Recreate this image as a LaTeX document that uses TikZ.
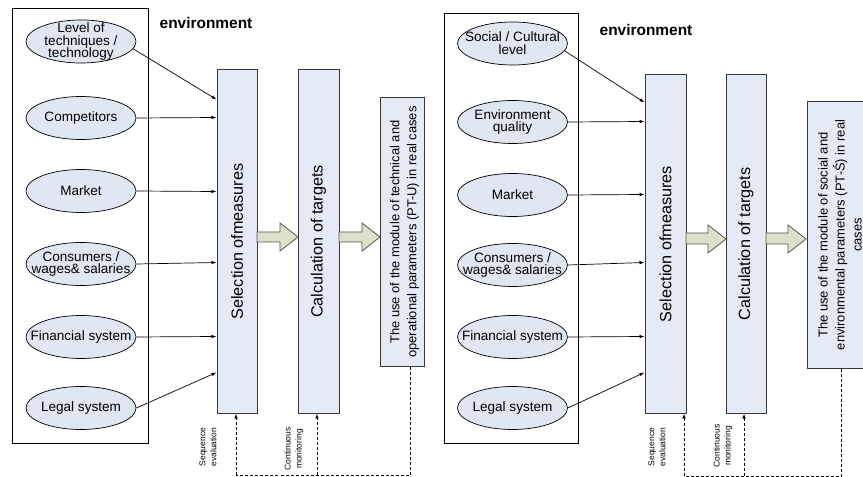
\documentclass[tikz,border=0pt]{standalone}
\usepackage{fontspec}
\setmainfont{Liberation Sans}
\usetikzlibrary{shapes.geometric,arrows.meta,calc}
\definecolor{boxfill}{RGB}{228,234,246}
\definecolor{ellfill}{RGB}{224,231,243}
\definecolor{boxline}{RGB}{55,55,55}
\definecolor{arrfill}{RGB}{221,225,204}
\definecolor{arrline}{RGB}{85,88,75}
\begin{document}
\begin{tikzpicture}[x=1bp,y=-1bp,
  panel/.style={draw=black, line width=0.7bp},
  ell/.style={ellipse, draw=black, fill=ellfill, line width=0.7bp, minimum width=110bp, minimum height=43bp, inner sep=0pt},
  elltext/.style={font=\fontsize{13.6}{12.8}\selectfont, align=center, inner sep=0pt},
  stepbox/.style={draw=boxline, fill=boxfill, line width=1bp, inner sep=0pt},
  boxtext/.style={rotate=90, font=\fontsize{16.3}{18}\selectfont, inner sep=0pt},
  usetext/.style={rotate=90, font=\fontsize{13}{17}\selectfont, align=center, inner sep=0pt},
  smalltext/.style={rotate=90, font=\fontsize{8.5}{11}\selectfont, align=center, inner sep=0pt},
  envtext/.style={font=\bfseries\fontsize{15.5}{18}\selectfont, inner sep=0pt},
  conn/.style={draw=black, line width=0.7bp, -{Latex[length=5bp,width=3.5bp]}},
  fback/.style={draw=black, line width=0.8bp, dash pattern=on 3bp off 2bp},
  fbarrow/.style={fback, -{Latex[length=5bp,width=3.5bp]}},
  blockarr/.style={draw=arrline, fill=arrfill, line width=0.8bp, line join=miter}
]
\fill[white] (0,0) rectangle (863,477);
\useasboundingbox (0,0) rectangle (863,477);

% ---------------- left panel ----------------
\draw[panel] (12,8) rectangle (148,443);
\node[envtext] (env1) at (206,23) {environment};

\node[ell, label={[elltext]center:Level of\\techniques /\\technology}] (l1) at (81,41.5) {};
\node[ell, label={[elltext]center:Competitors}] (l2) at (81,118) {};
\node[ell, label={[elltext]center:Market}] (l3) at (81,191) {};
\node[ell, label={[elltext]center:Consumers /\\wages\& salaries}] (l4) at (81,264) {};
\node[ell, label={[elltext]center:Financial system}] (l5) at (81,337) {};
\node[ell, label={[elltext]center:Legal system}] (l6) at (81,408) {};

\node[stepbox, minimum width=40bp, minimum height=343bp] (sel1) at (237,241.5) {};
\node[boxtext] (sel1t) at (sel1.center) {Selection ofmeasures};
\node[stepbox, minimum width=41bp, minimum height=343bp] (calc1) at (318.5,241.5) {};
\node[boxtext] (calc1t) at (calc1.center) {Calculation of targets};
\node[stepbox, minimum width=44bp, minimum height=268bp] (use1) at (402,232) {};
\node[usetext] (use1t) at (404.5,232) {The use of the module of technical and\\operational parameters (PT-U) in real cases};

\draw[conn] (l1.-8) -- ($(sel1.north west)+(0,30)$);
\draw[conn] (l2.east) -- ($(sel1.north west)+(0,48)$);
\draw[conn] (l3.east) -- ($(sel1.north west)+(0,122)$);
\draw[conn] (l4.east) -- ($(sel1.north west)+(0,193)$);
\draw[conn] (l5.east) -- ($(sel1.north west)+(0,267)$);
\draw[conn] (l6.east) -- ($(sel1.north west)+(0,303)$);

\draw[blockarr] (257,232) -- (280,232) -- (280,223) -- (298,237) -- (280,251) -- (280,242) -- (257,242) -- cycle;
\draw[blockarr] (339,232) -- (362,232) -- (362,223) -- (380,237) -- (362,251) -- (362,242) -- (339,242) -- cycle;

\coordinate (fa1) at (410,475);
\coordinate (fa2) at (236,475);
\coordinate (fa3) at (317,475);
\draw[fback] (use1.south -| fa1) -- (fa1) -- (fa2);
\draw[fbarrow] (fa2) -- (fa2 |- sel1.south);
\draw[fbarrow] (fa3) -- (fa3 |- calc1.south);
\node[smalltext] (seq1) at (208,447) {Sequence\\evaluation};
\node[smalltext] (mon1) at (294,449) {Continuous\\monitoring};

% ---------------- right panel ----------------
\draw[panel] (444,13) rectangle (578,443);
\node[envtext] (env2) at (646,30) {environment};

\node[ell, label={[elltext]center:Social / Cultural\\level}] (r1) at (512.5,43.5) {};
\node[ell, label={[elltext]center:Environment\\quality}] (r2) at (512.5,122) {};
\node[ell, label={[elltext]center:Market}] (r3) at (512.5,195) {};
\node[ell, label={[elltext]center:Consumers /\\wages\& salaries}] (r4) at (512.5,265) {};
\node[ell, label={[elltext]center:Financial system}] (r5) at (512.5,337) {};
\node[ell, label={[elltext]center:Legal system}] (r6) at (512.5,408) {};

\node[stepbox, minimum width=41bp, minimum height=338bp] (sel2) at (665.5,244) {};
\node[boxtext] (sel2t) at (sel2.center) {Selection ofmeasures};
\node[stepbox, minimum width=40bp, minimum height=338bp] (calc2) at (746,244) {};
\node[boxtext] (calc2t) at (calc2.center) {Calculation of targets};
\node[stepbox, minimum width=67bp, minimum height=266bp] (use2) at (840.5,235) {};
\node[usetext] (use2t) at (840,235) {The use of the module of social and\\environmental parameters (PT-Ś) in real\\cases};

\draw[conn] (r1.-8) -- ($(sel2.north west)+(0,28)$);
\draw[conn] (r2.east) -- ($(sel2.north west)+(0,47)$);
\draw[conn] (r3.east) -- ($(sel2.north west)+(0,120)$);
\draw[conn] (r4.east) -- ($(sel2.north west)+(0,188)$);
\draw[conn] (r5.east) -- ($(sel2.north west)+(0,262)$);
\draw[conn] (r6.east) -- ($(sel2.north west)+(0,298)$);

\draw[blockarr] (686,233) -- (708,233) -- (708,225) -- (726,239) -- (708,253) -- (708,244) -- (686,244) -- cycle;
\draw[blockarr] (766,233) -- (788,233) -- (788,225) -- (806,239) -- (788,253) -- (788,244) -- (766,244) -- cycle;

\coordinate (fb1) at (841,476);
\coordinate (fb2) at (684,476);
\coordinate (fb3) at (744,476);
\draw[fback] (use2.south -| fb1) -- (fb1) -- (fb2);
\draw[fbarrow] (fb2) -- (fb2 |- sel2.south);
\draw[fbarrow] (fb3) -- (fb3 |- calc2.south);
\node[smalltext] (seq2) at (657,447) {Sequence\\evaluation};
\node[smalltext] (mon2) at (723,446) {Continuous\\monitoring};
\end{tikzpicture}
\end{document}
